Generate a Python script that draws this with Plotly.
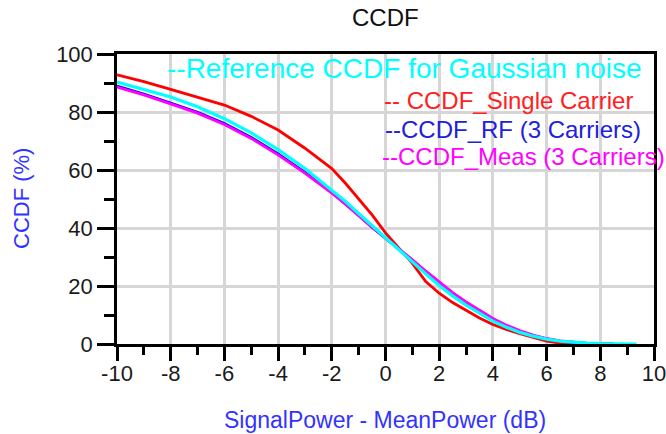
import plotly.graph_objects as go

# ---- data ----
x_ref = [-10, -9, -8, -7, -6, -5, -4, -3, -2, -1.5, -1, -0.5, 0, 0.5, 1, 1.5, 2, 2.5, 3, 3.5,
         4, 4.5, 5, 5.5, 6, 6.5, 7, 7.5, 8, 8.5, 9, 9.35]
ccdf_gauss = [90.3, 87.8, 85.2, 81.8, 77.7, 72.8, 67.0, 60.5, 53.2, 49.2, 45.0, 40.8, 36.8, 32.5,
              28.3, 24.2, 20.2, 16.6, 13.4, 10.5, 7.9, 5.8, 4.0, 2.7, 1.7, 1.0, 0.55, 0.28, 0.12,
              0.05, 0.02, 0.0]

x_meas = [-10, -9, -8, -7, -6, -5, -4, -3, -2, -1.5, -1, -0.5, 0, 0.5, 1, 1.5, 2, 2.5, 3, 3.5,
          4, 4.5, 5, 5.5, 6, 6.5, 7, 7.5, 8, 8.5]
ccdf_meas = [88.6, 85.9, 82.8, 79.6, 75.7, 70.9, 65.2, 58.9, 52.0, 48.3, 44.2, 40.2, 36.6, 32.9,
             29.0, 25.1, 21.3, 17.7, 14.5, 11.5, 8.8, 6.5, 4.6, 3.1, 1.9, 1.1, 0.55, 0.2, 0.05, 0.0]
ccdf_rf = [88.9, 86.2, 83.1, 79.9, 76.0, 71.2, 65.5, 59.2, 52.3, 48.5, 44.4, 40.3, 36.6, 32.8,
           28.9, 25.0, 21.1, 17.5, 14.3, 11.3, 8.6, 6.3, 4.4, 2.9, 1.8, 1.0, 0.5, 0.2, 0.05, 0.0]

x_single = [-10, -9, -8, -7, -6, -5, -4, -3, -2, -1.5, -1, -0.5, 0, 0.5, 1, 1.5, 2, 2.5, 3, 3.5,
            4, 4.5, 5, 5.5, 6, 6.5, 7]
ccdf_single = [92.8, 90.5, 87.8, 85.2, 82.4, 78.5, 73.8, 67.5, 60.5, 55.5, 50.0, 44.5, 38.3, 33.0,
               27.8, 21.5, 17.5, 14.3, 11.5, 9.0, 6.7, 5.0, 3.6, 2.2, 1.0, 0.3, 0.0]

marker_x = [-4, -2]

x_tickvals = [-10, -8, -6, -4, -2, 0, 2, 4, 6, 8, 10]
x_ticktext = ["-10", "-8", "-6", "-4", "-2", "0", "2", "4", "6", "8", "10"]
y_tickvals = [0, 20, 40, 60, 80, 100]
y_ticktext = ["0", "20", "40", "60", "80", "100"]

legend_texts = ["--Reference CCDF for Gaussian noise", "-- CCDF_Single Carrier",
                "--CCDF_RF (3 Carriers)", "--CCDF_Meas (3 Carriers)"]

FONT = "Arial, 'Liberation Sans', sans-serif"

fig = go.Figure()
fig.add_trace(go.Scatter(x=x_single, y=ccdf_single, mode="lines",
                         line=dict(color="#ff0000", width=2.8), showlegend=False))
fig.add_trace(go.Scatter(x=x_meas, y=ccdf_rf, mode="lines",
                         line=dict(color="#0000ff", width=2.8), showlegend=False))
fig.add_trace(go.Scatter(x=x_meas, y=ccdf_meas, mode="lines",
                         line=dict(color="#ff00ff", width=2.8), showlegend=False))
fig.add_trace(go.Scatter(x=x_ref, y=ccdf_gauss, mode="lines",
                         line=dict(color="#00ffff", width=3.2), showlegend=False))

for mx in marker_x:
    fig.add_shape(type="line", xref="x", yref="paper", x0=mx, x1=mx, y0=0, y1=1,
                  line=dict(color="#ffaaff", width=1.5, dash="dash"), layer="between")

axis_common = dict(
    showline=True, linecolor="black", linewidth=2.5, mirror=True,
    showgrid=True, gridcolor="#d6d6d6", gridwidth=2.5,
    ticks="outside", tickcolor="black", tickwidth=2.5,
    tickfont=dict(family=FONT, size=22, color="#1a1a1a"),
    zeroline=False, automargin=False, ticklabeloverflow="allow",
)

fig.update_xaxes(range=[-10, 10], tickmode="array", tickvals=x_tickvals, ticktext=x_ticktext,
                 ticklen=14, ticklabelstandoff=-6,
                 minor=dict(dtick=1, tick0=-10, ticklen=8, tickwidth=2.5, tickcolor="black",
                            ticks="outside", showgrid=False),
                 **axis_common)
fig.update_yaxes(range=[0, 100], tickmode="array", tickvals=y_tickvals, ticktext=y_ticktext,
                 ticklen=17,
                 minor=dict(dtick=10, tick0=0, ticklen=10, tickwidth=2.5, tickcolor="black",
                            ticks="outside", showgrid=False),
                 **axis_common)

L, R, T, B = 117, 12, 54, 90
W, H = 666, 434
pw, ph = W - L - R, H - T - B

def px_to_paper(px, py):
    return (px - L) / pw, (H - B - py) / ph

annos = []
# title
tx, ty = px_to_paper(385, 18)
annos.append(dict(text="CCDF", x=tx, y=ty, xref="paper", yref="paper", showarrow=False,
                  xanchor="center", yanchor="middle", font=dict(family=FONT, size=24, color="#111111")))
# axis titles
tx, ty = px_to_paper(385, 420)
annos.append(dict(text="SignalPower - MeanPower (dB)", x=tx, y=ty, xref="paper", yref="paper",
                  showarrow=False, xanchor="center", yanchor="middle",
                  font=dict(family=FONT, size=23, color="#3333ff")))
tx, ty = px_to_paper(21, 199)
annos.append(dict(text="CCDF (%)", x=tx, y=ty, xref="paper", yref="paper", textangle=-90,
                  showarrow=False, xanchor="center", yanchor="middle",
                  font=dict(family=FONT, size=22, color="#3333ff")))
# legend-like labels
leg_pos = [(165, 68, 28, "#00ffff"), (382, 100, 24, "#ff2020"), (383, 129, 24, "#2020dd"),
           (380, 156, 24, "#ff00ff")]
for txt, (px, py, fs, col) in zip(legend_texts, leg_pos):
    ax_, ay_ = px_to_paper(px, py)
    annos.append(dict(text=txt, x=ax_, y=ay_, xref="paper", yref="paper", showarrow=False,
                      xanchor="left", yanchor="middle", font=dict(family=FONT, size=fs, color=col)))

fig.update_layout(width=W, height=H, margin=dict(l=L, r=R, t=T, b=B, autoexpand=False),
                  plot_bgcolor="white", paper_bgcolor="white", annotations=annos,
                  showlegend=False)

fig.write_html("out.html", config={"displayModeBar": False},
               post_script="document.body.style.margin='0px';document.body.style.overflow='hidden';")
